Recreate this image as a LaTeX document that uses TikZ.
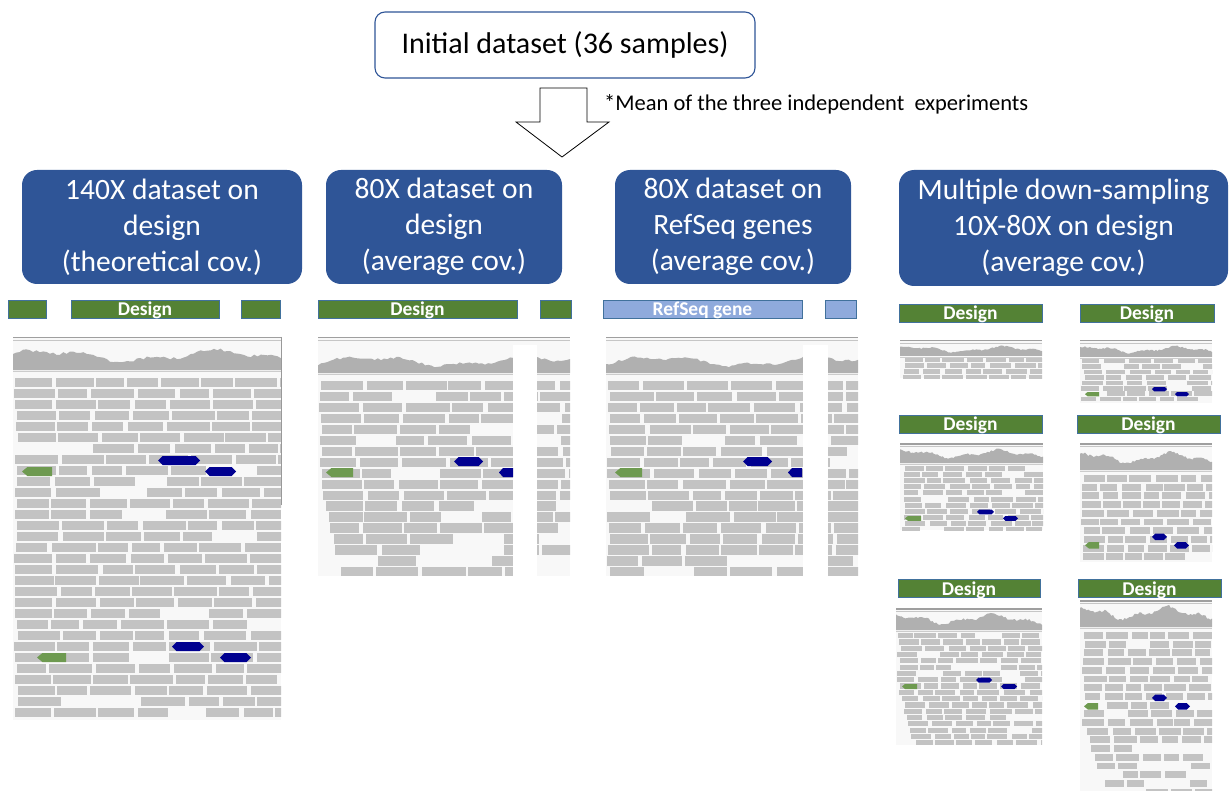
\documentclass[tikz,border=0pt]{standalone}
\usepackage{fontspec}
\setmainfont{Carlito}
\definecolor{hdrblue}{HTML}{2F5597}
\definecolor{boxborder}{HTML}{2F5597}
\definecolor{lblgreen}{HTML}{548235}
\definecolor{lblborder}{HTML}{41719C}
\definecolor{lblblue}{HTML}{8FAADC}
\definecolor{readc}{HTML}{C3C3C3}
\definecolor{covc}{HTML}{B0B0B0}
\definecolor{panelbg}{HTML}{F8F8F8}
\definecolor{readblue}{HTML}{000090}
\definecolor{readgreen}{HTML}{6E9A50}
\tikzset{
  header/.style={rounded corners=15pt, fill=hdrblue, text=white, align=center,
    font=\fontsize{29.5}{36}\selectfont, inner sep=0pt},
  lbl/.style={fill=lblgreen, draw=lblborder, line width=0.9pt, text=white,
    font=\fontsize{19.5}{19.5}\selectfont\bfseries, inner sep=0pt,
    text height=15.5pt, text depth=2.5pt},
  lblb/.style={lbl, fill=lblblue},
}
\def\tstart{1000}\def\tleft{0}\def\tdrop{0}
% frame: x0 y0 x1 y1 covtop covbase phase
\newcommand\igvframe[7]{%
  \fill[panelbg] (#1,#2) rectangle (#3,#4);
  \draw[line width=1.4pt, gray!75] (#1,#2+0.8) -- (#3,#2+0.8);
  \draw[line width=0.6pt, gray!45] (#1,#2+3.5) -- (#3,#2+3.5);
  \fill[covc] (#1,#6) \foreach \i in {0,...,80}{ -- ({#1+\i/80*(#3-#1)},{#6-(#6-#5)*(0.55+0.2*sin(\i*7+#7)+0.1*sin(\i*19+2*#7)+0.12*rnd)}) } -- (#3,#6) -- cycle;
  \draw[line width=0.7pt, gray!40] (#1,#6+1.5) -- (#3,#6+1.5);
}
% reads: x0 x1 ystart nrows pitch h minw varw
\newcommand\readrows[8]{%
  \foreach \r in {1,...,#4}{%
    \pgfmathsetmacro\yy{#3+(\r-1)*#5}%
    \pgfmathsetmacro\ex{max(0,\r-\tstart)}%
    \pgfmathsetmacro\cx{#1+1+rnd*4+\ex*\tleft}\xdef\cx{\cx}%
    \pgfmathsetmacro\pdrop{0.07+\ex*\tdrop}%
    \foreach \k in {1,...,16}{%
      \pgfmathsetmacro\rw{#7+rnd*#8}%
      \pgfmathsetmacro\rs{rnd}%
      \ifdim\rs pt>\pdrop pt
        \fill[readc] (\cx,\yy) rectangle ++(\rw,#6);
      \fi
      \pgfmathsetmacro\nx{\cx+\rw+1.5+rnd*3.5}\xdef\cx{\nx}%
    }%
  }%
}
% coloured reads: x1 x2 y h colour
\newcommand\readL[5]{\fill[#5] (#1,#3+#4/2) -- (#1+#4*0.6,#3) -- (#2,#3) -- (#2,#3+#4) -- (#1+#4*0.6,#3+#4) -- cycle;}
\newcommand\readB[5]{\fill[#5] (#1,#3+#4/2) -- (#1+#4*0.5,#3) -- (#2-#4*0.5,#3) -- (#2,#3+#4/2) -- (#2-#4*0.5,#3+#4) -- (#1+#4*0.5,#3+#4) -- cycle;}
\begin{document}
\begin{tikzpicture}[x=1pt,y=-1pt]
\useasboundingbox (0,0) rectangle (1231,791);
\pgfmathsetseed{4711}
% top box
\node[draw=boxborder, line width=1.1pt, rounded corners=10pt, fill=white,
  minimum width=380pt, minimum height=66pt, font=\fontsize{30}{34}\selectfont] (init) at (565,45) {Initial dataset (36 samples)};
\draw[line width=0.8pt, fill=white] (540,88) -- (587,88) -- (587,122) -- (609,122) -- (562,157) -- (516,122) -- (540,122) -- cycle;
\node[anchor=west, font=\fontsize{22.5}{24}\selectfont, inner sep=0pt] (note) at (604,104) {*Mean of the three independent\ \ experiments};
% headers
\node[header, minimum width=280pt, minimum height=114pt] (h1) at (162,227) {140X dataset on\\design\\(theoretical cov.)};
\node[header, minimum width=236pt, minimum height=114pt] (h2) at (444,227) {80X dataset on\\design\\(average cov.)};
\node[header, minimum width=236pt, minimum height=114pt] (h3) at (733,227) {80X dataset on\\RefSeq genes\\(average cov.)};
\node[header, minimum width=329pt, minimum height=116pt] (h4) at (1063.5,228) {Multiple down-sampling\\10X-80X on design\\(average cov.)};
% labels column 1-3
\node[lbl, minimum width=38pt] (l1a) at (27,309) {};
\node[lbl, minimum width=148pt] (l1b) at (145,309) {Design};
\node[lbl, minimum width=39pt] (l1c) at (260.5,309) {};
\node[lbl, minimum width=199pt] (l2a) at (417.5,309) {Design};
\node[lbl, minimum width=31pt] (l2b) at (555.5,309) {};
\node[lblb, minimum width=199pt] (l3a) at (702.5,309) {RefSeq gene};
\node[lblb, minimum width=31pt] (l3b) at (840.5,309) {};
% labels column 4
\node[lbl, minimum width=143pt] (la) at (970.5,313) {Design};
\node[lbl, minimum width=134pt] (lb) at (1147,313.5) {Design};
\node[lbl, minimum width=143pt] (lc) at (970.5,424) {Design};
\node[lbl, minimum width=143pt] (ld) at (1148.5,424) {Design};
\node[lbl, minimum width=142pt] (le) at (969,588.5) {Design};
\node[lbl, minimum width=143pt] (lf) at (1149.5,588.5) {Design};
% ---------- panel 1
\begin{scope}
\clip (13,337) rectangle (281,720);
\igvframe{13}{337}{281}{720}{347}{370}{20}
\readrows{13}{281}{378}{31}{11}{9.3}{28}{16}
\readL{22}{52}{467}{9}{readgreen}
\readB{158}{200}{456}{9}{readblue}
\readB{205}{236}{467}{9}{readblue}
\readL{37}{66}{653}{9}{readgreen}
\readB{172}{204}{642}{9}{readblue}
\readB{220}{251}{653}{9}{readblue}
\end{scope}
\draw[gray!80, line width=0.8pt] (281,337) -- (281,505);
% ---------- panel 2
\begin{scope}
\clip (318,337) rectangle (570,576);
\igvframe{318}{337}{570}{576}{354}{373}{-30}
\def\tstart{10}\def\tleft{2.5}\def\tdrop{0.045}
\readrows{318}{570}{381}{18}{10.95}{9.3}{28}{16}
\fill[white] (513,345) rectangle (537,578);
\readL{326}{353}{468}{9}{readgreen}
\readB{454}{483}{457}{9}{readblue}
\fill[readblue] (499,472.5) -- (503,468) -- (513,468) -- (513,477) -- (503,477) -- cycle;
\end{scope}
% ---------- panel 3
\begin{scope}
\clip (606,337) rectangle (858,576);
\igvframe{606}{337}{858}{576}{354}{373}{-30}
\readrows{606}{858}{381}{18}{10.95}{9.3}{28}{16}
\fill[white] (803,345) rectangle (828,578);
\readL{615}{642}{468}{9}{readgreen}
\readB{743}{772}{457}{9}{readblue}
\fill[readblue] (788,472.5) -- (792,468) -- (802,468) -- (802,477) -- (792,477) -- cycle;
\end{scope}
\def\tstart{1000}\def\tleft{0}\def\tdrop{0}
% ---------- small panel a
\begin{scope}
\clip (900,340) rectangle (1042,378);
\igvframe{900}{340}{1042}{378}{345}{356}{40}
\readrows{900}{1042}{358}{4}{5.5}{4.5}{14}{8}
\end{scope}
% ---------- small panel b
\begin{scope}
\clip (1080,340) rectangle (1212,403);
\igvframe{1080}{340}{1212}{403}{345}{357}{40}
\readrows{1080}{1212}{359}{8}{5.4}{4.5}{14}{8}
\readL{1085}{1099}{392}{4.3}{readgreen}
\readB{1152}{1167}{387}{4.3}{readblue}
\readB{1175}{1189}{392}{4.3}{readblue}
\end{scope}
% ---------- small panel c
\begin{scope}
\clip (900,443) rectangle (1043,530);
\igvframe{900}{443}{1043}{530}{448}{463}{60}
\readrows{900}{1043}{466}{11}{6.1}{5}{14}{8}
\readL{905}{921}{516}{4.8}{readgreen}
\readB{977}{994}{509.5}{4.8}{readblue}
\readB{1003}{1018}{516}{4.8}{readblue}
\end{scope}
% ---------- small panel d
\begin{scope}
\clip (1080,443) rectangle (1212,562);
\igvframe{1080}{443}{1212}{562}{450}{470}{60}
\readrows{1080}{1212}{475}{10}{8.7}{6.9}{15}{8}
\readL{1085}{1099}{542}{6.6}{readgreen}
\readB{1152}{1167}{533.5}{6.6}{readblue}
\readB{1174}{1189}{542}{6.6}{readblue}
\end{scope}
% ---------- small panel e
\begin{scope}
\clip (896,608) rectangle (1042,745);
\igvframe{896}{608}{1042}{745}{612}{630}{80}
\def\tstart{10}\def\tleft{2}\def\tdrop{0.03}
\readrows{896}{1042}{633}{18}{6.3}{5.2}{14}{8}
\readL{902}{917}{684}{5}{readgreen}
\readB{976}{992}{677.5}{5}{readblue}
\readB{1001}{1017}{684}{5}{readblue}
\end{scope}
% ---------- small panel f
\begin{scope}
\clip (1080,600) rectangle (1212,791);
\igvframe{1080}{600}{1212}{791}{604}{627}{80}
\def\tstart{11}\def\tleft{3}\def\tdrop{0.04}
\readrows{1080}{1212}{632}{19}{8.7}{6.9}{15}{8}
\readL{1084}{1098}{703}{6.6}{readgreen}
\readB{1152}{1167}{694.5}{6.6}{readblue}
\readB{1175}{1190}{703}{6.6}{readblue}
\end{scope}
\end{tikzpicture}
\end{document}
